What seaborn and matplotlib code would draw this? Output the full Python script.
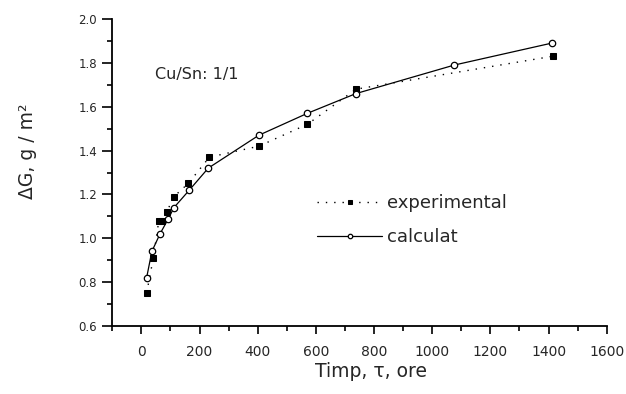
import matplotlib
matplotlib.use("Agg")
import matplotlib.pyplot as plt
import seaborn as sns
import pandas as pd
from matplotlib.ticker import MultipleLocator

# data
t_exp = [18, 41, 60, 70, 87, 112, 161, 234, 404, 571, 738, 1414]
g_exp = [0.75, 0.91, 1.08, 1.08, 1.12, 1.19, 1.25, 1.37, 1.42, 1.52, 1.68, 1.83]
t_calc = [18, 36, 64, 93, 112, 165, 230, 404, 571, 738, 1076, 1411]
g_calc = [0.82, 0.94, 1.02, 1.09, 1.14, 1.22, 1.32, 1.47, 1.57, 1.66, 1.79, 1.89]
label_exp = "experimental"
label_calc = "calculat"
xticks = [0, 200, 400, 600, 800, 1000, 1200, 1400, 1600]
yticks = [0.6, 0.8, 1.0, 1.2, 1.4, 1.6, 1.8, 2.0]

sns.set_style("ticks")
plt.rcParams['font.family'] = ['DejaVu Sans']

fig = plt.figure(figsize=(6.26, 3.94), dpi=100)
W, H = 626, 394
left, right, top, bottom = 112.3, 606.7, 19, 326
ax = fig.add_axes([left / W, 1 - bottom / H, (right - left) / W, (bottom - top) / H])

df_exp = pd.DataFrame({"t": t_exp, "g": g_exp})
df_calc = pd.DataFrame({"t": t_calc, "g": g_calc})

sns.lineplot(data=df_exp, x="t", y="g", ax=ax, sort=False, estimator=None,
             color="black", linewidth=1.0, linestyle=(0, (1, 5)),
             marker="s", markersize=4.2, markerfacecolor="black",
             markeredgecolor="black", label=label_exp)
sns.lineplot(data=df_calc, x="t", y="g", ax=ax, sort=False, estimator=None,
             color="black", linewidth=0.9, linestyle="-",
             marker="o", markersize=4.6, markerfacecolor="white",
             markeredgecolor="black", markeredgewidth=0.9, label=label_calc)

ax.set_xlim(-100, 1600)
ax.set_ylim(0.6, 2.0)
ax.set_xticks(xticks)
ax.set_yticks(yticks)
ax.xaxis.set_minor_locator(MultipleLocator(100))
ax.yaxis.set_minor_locator(MultipleLocator(0.1))
ax.set_yticklabels([f"{v:.1f}" for v in yticks])
ax.tick_params(axis="x", which="major", direction="out", length=6, width=1.2,
               labelsize=10, pad=8, color="black")
ax.tick_params(axis="x", which="minor", direction="out", length=3.5, width=1.2, color="black")
ax.tick_params(axis="y", which="major", direction="out", length=7, width=1.2,
               labelsize=8.5, pad=4, color="black")
ax.tick_params(axis="y", which="minor", direction="out", length=3.5, width=1.2, color="black")

for s in ["top", "right"]:
    ax.spines[s].set_visible(False)
for s in ["left", "bottom"]:
    ax.spines[s].set_linewidth(1.3)
    ax.spines[s].set_color("black")

ax.set_xlabel("Timp, τ, ore", fontsize=13.5)
ax.set_ylabel("ΔG, g / m²", fontsize=13.5)
ax.xaxis.set_label_coords((371 - left) / (right - left), (bottom - 362) / (bottom - top))
ax.yaxis.set_label_coords((37 - left) / (right - left), (bottom - 151) / (bottom - top))

ax.text(47, 1.745, "Cu/Sn: 1/1", fontsize=11.5, va="center", ha="left")

leg = ax.legend(loc="upper left", bbox_to_anchor=((317 - left) / (right - left), (bottom - 194) / (bottom - top)),
                frameon=False, fontsize=13, handlelength=3.6, handletextpad=0.25,
                labelspacing=0.9, numpoints=1, borderpad=0, borderaxespad=0)
for h in leg.legend_handles:
    h.set_markersize(3.2)

fig.savefig("out.png", dpi=100)
